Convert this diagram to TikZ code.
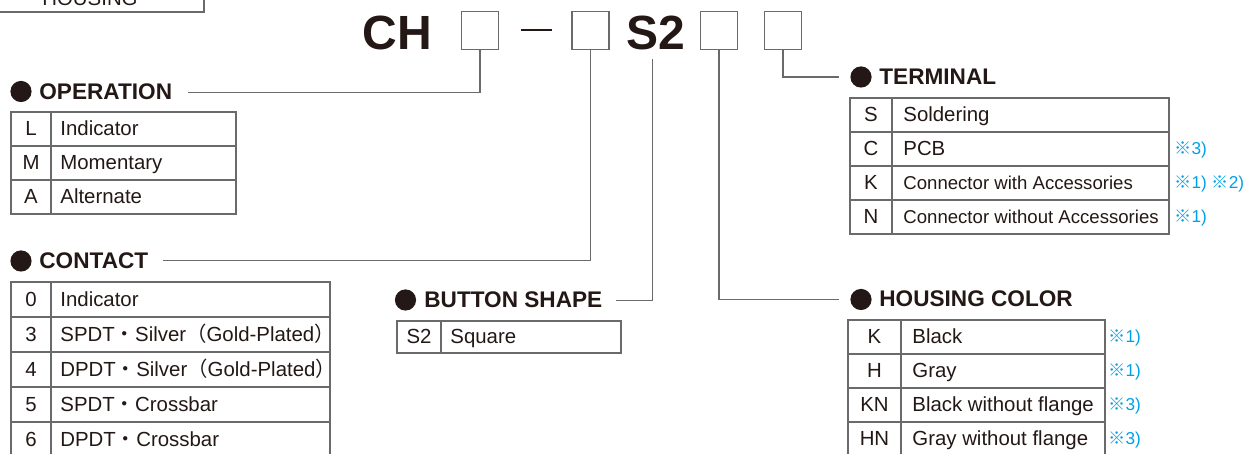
\documentclass[tikz,border=0pt]{standalone}
\usepackage{fontspec}
\setmainfont{Liberation Sans}
\newfontfamily\cjk{Noto Sans CJK JP}
\usepackage{xcolor}
\usetikzlibrary{positioning}

\definecolor{ink}{HTML}{231815}
\definecolor{rule}{HTML}{6A6A6A}
\definecolor{notecol}{HTML}{00A0E9}

\newcommand{\kdot}{{\cjk ・}}
\newcommand{\kopen}{{\cjk （}}
\newcommand{\kclose}{{\cjk ）}}
\newcommand{\kref}{{\cjk ※}}
\newcommand{\smallrow}{\fontsize{9.3}{11}\selectfont}

\tikzset{
  slot/.style={draw=rule, line width=0.65pt, minimum width=18.5pt, minimum height=19pt, inner sep=0pt},
  big/.style={font=\fontsize{24}{28}\selectfont\bfseries, text=ink, anchor=base west, inner sep=0pt},
  dot/.style={circle, fill=ink, minimum size=10.6pt, inner sep=0pt},
  title/.style={font=\fontsize{11.3}{13}\selectfont\bfseries, text=ink, anchor=base west, inner sep=0pt},
  cell/.style={font=\fontsize{10.2}{12}\selectfont, text=ink, anchor=base west, inner sep=0pt},
  code/.style={font=\fontsize{10.2}{12}\selectfont, text=ink, anchor=base, inner sep=0pt},
  remark/.style={font=\fontsize{8.6}{10}\selectfont, text=notecol, anchor=base west, inner sep=0pt},
  grid/.style={draw=rule, line width=0.65pt},
  lead/.style={draw=rule, line width=0.65pt},
}

\begin{document}
\begin{tikzpicture}[x=0.5pt, y=-0.5pt]
  \useasboundingbox (0,0) rectangle (1250,454);
  \clip (0,0) rectangle (1250,454);

  \draw[grid] (-20,-40) rectangle (204,12);
  \node[code] (housing) at (90,6) {HOUSING};

  \node[big] (ch) at (362,50) {CH};
  \node[slot] (b1) at (480,30.5) {};
  \draw[ink, line width=0.9pt] (521,30) -- (552,30);
  \node[slot] (b2) at (590.5,30.5) {};
  \node[big, inner sep=4.5pt] (s2) at (617,49.5) {S2};
  \node[slot] (b3) at (719,30.5) {};
  \node[slot] (b4) at (783,30.5) {};

  \node[dot] (op-dot) at (21,91.5) {};
  \node[title] (operation) at (39,100) {OPERATION};
  \node[dot] (ct-dot) at (21,261) {};
  \node[title] (contact) at (39,268.5) {CONTACT};
  \node[dot] (bs-dot) at (405.5,300) {};
  \node[title] (button) at (424,308) {BUTTON SHAPE};
  \node[dot] (tm-dot) at (861,77) {};
  \node[title] (terminal) at (879,85) {TERMINAL};
  \node[dot] (hc-dot) at (861,299.5) {};
  \node[title] (color) at (879,307) {HOUSING COLOR};

  \draw[lead] (b1.south) |- ([xshift=8pt]operation.east);
  \draw[lead] (b2.south) |- ([xshift=7pt]contact.east);
  \draw[lead] ([xshift=-1.5pt]s2.south) |- ([xshift=6.5pt]button.east);
  \draw[lead] (b3.south) |- ([xshift=-5.5pt]hc-dot.west);
  \draw[lead] (b4.south) |- ([xshift=-5.5pt]tm-dot.west);

  \foreach \code/\desc [count=\i] in {
    L/Indicator,
    M/Momentary,
    A/Alternate
  }{
    \pgfmathsetmacro\ry{112+34*(\i-1)}
    \draw[grid] (11,\ry) rectangle (236,\ry+34) (51,\ry) -- (51,\ry+34);
    \node[code] (op-c\i) at (31,\ry+24) {\code};
    \node[cell] (op-d\i) at (60,\ry+24) {\desc};
  }

  \foreach \code/\desc [count=\i] in {
    0/Indicator,
    3/{SPDT\kdot Silver\kopen Gold-Plated\kclose},
    4/{DPDT\kdot Silver\kopen Gold-Plated\kclose},
    5/{SPDT\kdot Crossbar},
    6/{DPDT\kdot Crossbar}
  }{
    \pgfmathsetmacro\ry{282+35*(\i-1)}
    \draw[grid] (11,\ry) rectangle (330,\ry+35) (51,\ry) -- (51,\ry+35);
    \node[code] (ct-c\i) at (31,\ry+25) {\code};
    \node[cell] (ct-d\i) at (60,\ry+25) {\desc};
  }

  \draw[grid] (397,321) rectangle (621,353) (441,321) -- (441,353);
  \node[code] (bs-c1) at (419,344) {S2};
  \node[cell] (bs-d1) at (450,344) {Square};

  \foreach \code/\desc/\note [count=\i] in {
    S/Soldering/,
    C/PCB/{\kref 3)},
    K/{\smallrow Connector with Accessories}/{\kref 1) \kref 2)},
    N/{\smallrow Connector without Accessories}/{\kref 1)}
  }{
    \pgfmathsetmacro\ry{98+34*(\i-1)}
    \draw[grid] (850,\ry) rectangle (1169,\ry+34) (892,\ry) -- (892,\ry+34);
    \node[code] (tm-c\i) at (871,\ry+24) {\code};
    \node[cell] (tm-d\i) at (903,\ry+24) {\desc};
    \node[remark] (tm-n\i) at (1174,\ry+23) {\note};
  }

  \foreach \code/\desc/\note [count=\i] in {
    K/Black/{\kref 1)},
    H/Gray/{\kref 1)},
    KN/Black without flange/{\kref 3)},
    HN/Gray without flange/{\kref 3)}
  }{
    \pgfmathsetmacro\ry{320+34*(\i-1)}
    \draw[grid] (848,\ry) rectangle (1105,\ry+34) (901,\ry) -- (901,\ry+34);
    \node[code] (hc-c\i) at (874.5,\ry+24) {\code};
    \node[cell] (hc-d\i) at (912,\ry+24) {\desc};
    \node[remark] (hc-n\i) at (1108,\ry+23) {\note};
  }
\end{tikzpicture}
\end{document}
